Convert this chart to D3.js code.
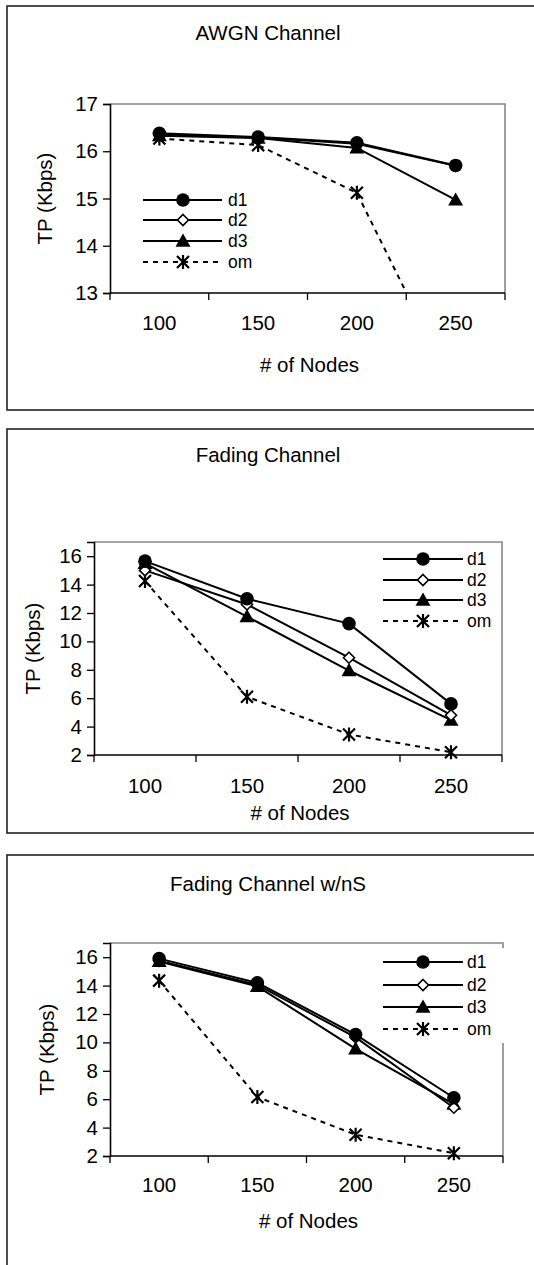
<!DOCTYPE html>
<html><head><meta charset="utf-8">
<script src="https://cdn.jsdelivr.net/npm/d3@7"></script>
<style>
html,body{margin:0;padding:0;background:#fff;}
svg{display:block;}
text{font-family:"Liberation Sans",Arial,sans-serif;fill:#000;}
</style></head>
<body>
<svg id="c" width="534" height="1265"></svg>
<script>
// ---- data ----
const categories = [100, 150, 200, 250];
const seriesNames = ["d1", "d2", "d3", "om"];
const xAxisTitle = "# of Nodes";
const yAxisTitle = "TP (Kbps)";

const awgnTitle = "AWGN Channel";
const awgnD1 = [16.38, 16.30, 16.18, 15.70];
const awgnD2 = [16.36, 16.29, 16.16, 15.69];
const awgnD3 = [16.33, 16.28, 16.07, 14.97];
const awgnOm = [16.27, 16.13, 15.12, 10.9];
const awgnTicks = [13, 14, 15, 16, 17];

const fadingTitle = "Fading Channel";
const fadingD1 = [15.65, 13.0, 11.25, 5.6];
const fadingD2 = [15.0, 12.6, 8.85, 4.8];
const fadingD3 = [15.5, 11.75, 7.95, 4.45];
const fadingOm = [14.25, 6.1, 3.45, 2.2];
const fadingTicks = [2, 4, 6, 8, 10, 12, 14, 16];

const wnsTitle = "Fading Channel w/nS";
const wnsD1 = [15.9, 14.2, 10.55, 6.1];
const wnsD2 = [15.75, 14.05, 10.35, 5.4];
const wnsD3 = [15.7, 13.95, 9.55, 5.65];
const wnsOm = [14.35, 6.15, 3.5, 2.2];
const wnsTicks = [2, 4, 6, 8, 10, 12, 14, 16];

// ---- drawing ----
const svg = d3.select("#c");
const FONT = 20.5;
const LEG_FONT = 17.5;

const panels = [
  { title: awgnTitle, series: [awgnD1, awgnD2, awgnD3, awgnOm], ticks: awgnTicks, domain: [13, 17],
    box: { x: 7, y: 6, b: 410 }, titleY: 33,
    plot: { l: 110, t: 104, r: 505, b: 293 }, xLabY: 323, xTitleY: 365, yTitleX: 45,
    legend: { x0: 143, x1: 222, mx: 183, tx: 228, rows: [200, 220, 241, 262], bg: false } },
  { title: fadingTitle, series: [fadingD1, fadingD2, fadingD3, fadingOm], ticks: fadingTicks, domain: [2, 17],
    box: { x: 7, y: 429, b: 833 }, titleY: 455,
    plot: { l: 94, t: 542, r: 502, b: 755 }, xLabY: 786, xTitleY: 813, yTitleX: 33,
    legend: { x0: 383, x1: 463, mx: 423, tx: 467, rows: [559, 580, 600, 621], bg: false } },
  { title: wnsTitle, series: [wnsD1, wnsD2, wnsD3, wnsOm], ticks: wnsTicks, domain: [2, 17],
    box: { x: 7, y: 855, b: 1300 }, titleY: 884,
    plot: { l: 110, t: 943, r: 503, b: 1156 }, xLabY: 1185, xTitleY: 1221, yTitleX: 47,
    legend: { x0: 383, x1: 463, mx: 423, tx: 467, rows: [962, 985, 1007, 1029], bg: true } }
];

function drawMarker(g, type, x, y) {
  if (type === "d1") {
    g.append("circle").attr("cx", x).attr("cy", y).attr("r", 6.8).attr("fill", "#000");
  } else if (type === "d2") {
    const s = 5.5;
    g.append("path").attr("d", `M${x},${y - s}L${x + s},${y}L${x},${y + s}L${x - s},${y}Z`)
      .attr("fill", "#fff").attr("stroke", "#000").attr("stroke-width", 1.6);
  } else if (type === "d3") {
    const s = 7.5;
    g.append("path").attr("d", `M${x},${y - s}L${x + s},${y + s * 0.75}L${x - s},${y + s * 0.75}Z`)
      .attr("fill", "#000");
  } else {
    const s = 6;
    g.append("path").attr("d", `M${x - s},${y - s}L${x + s},${y + s}M${x - s},${y + s}L${x + s},${y - s}M${x},${y - s - 1}L${x},${y + s + 1}`)
      .attr("stroke", "#000").attr("stroke-width", 2.2).attr("fill", "none");
  }
}

panels.forEach((p, pi) => {
  const g = svg.append("g");
  g.append("rect").attr("x", p.box.x).attr("y", p.box.y)
    .attr("width", 560).attr("height", p.box.b - p.box.y)
    .attr("fill", "#fff").attr("stroke", "#222").attr("stroke-width", 1.6);
  g.append("text").attr("x", 268).attr("y", p.titleY).attr("dy", "0.35em")
    .attr("text-anchor", "middle").attr("font-size", FONT).text(p.title);

  const x = d3.scaleBand().domain(categories).range([p.plot.l, p.plot.r]);
  const y = d3.scaleLinear().domain(p.domain).range([p.plot.b, p.plot.t]);

  g.append("path").attr("d", `M${p.plot.l},${p.plot.t}H${p.plot.r}V${p.plot.b}`)
    .attr("fill", "none").attr("stroke", "#888").attr("stroke-width", 1.6);

  const cid = "clip" + pi;
  svg.append("clipPath").attr("id", cid).append("rect")
    .attr("x", p.plot.l).attr("y", p.plot.t).attr("width", p.plot.r - p.plot.l).attr("height", p.plot.b - p.plot.t);

  const yAx = g.append("g").attr("transform", `translate(${p.plot.l},0)`)
    .call(d3.axisLeft(y).tickValues(p.ticks).tickSize(7).tickPadding(5).tickFormat(d3.format("d")));
  yAx.select(".domain").attr("stroke", "#000").attr("stroke-width", 1.6);
  yAx.selectAll(".tick line").attr("stroke", "#000").attr("stroke-width", 1.3);
  yAx.selectAll(".tick text").attr("font-size", FONT).attr("font-family", "Liberation Sans, Arial, sans-serif");

  const xAx = g.append("g").attr("transform", `translate(0,${p.plot.b})`);
  xAx.append("line").attr("x1", p.plot.l).attr("x2", p.plot.r).attr("stroke", "#000").attr("stroke-width", 1.6);
  const bounds = categories.map(c => x(c)).concat([x(categories[categories.length - 1]) + x.bandwidth()]);
  xAx.selectAll("line.tk").data(bounds).join("line").attr("class", "tk")
    .attr("x1", d => d).attr("x2", d => d).attr("y1", 0).attr("y2", 7)
    .attr("stroke", "#000").attr("stroke-width", 1.3);
  g.selectAll("text.xl").data(categories).join("text").attr("class", "xl")
    .attr("x", d => x(d) + x.bandwidth() / 2).attr("y", p.xLabY).attr("dy", "0.35em")
    .attr("text-anchor", "middle").attr("font-size", FONT).text(d => d);

  g.append("text").attr("x", (p.plot.l + p.plot.r) / 2 + 2).attr("y", p.xTitleY).attr("dy", "0.35em")
    .attr("text-anchor", "middle").attr("font-size", FONT).text(xAxisTitle);
  g.append("text").attr("transform", `translate(${p.yTitleX},${(p.plot.t + p.plot.b) / 2}) rotate(-90)`)
    .attr("dy", "0.35em").attr("text-anchor", "middle").attr("font-size", FONT).text(yAxisTitle);

  const line = d3.line().x((d, i) => x(categories[i]) + x.bandwidth() / 2).y(d => y(d));
  const dataG = g.append("g").attr("clip-path", `url(#${cid})`);
  const markG = g.append("g");
  [3, 2, 1, 0].forEach(si => {
    dataG.append("path").attr("d", line(p.series[si])).attr("fill", "none").attr("stroke", "#000")
      .attr("stroke-width", 2)
      .attr("stroke-dasharray", si === 3 ? "5,5" : null);
  });
  [3, 2, 1, 0].forEach(si => {
    p.series[si].forEach((v, i) => {
      if (v >= p.domain[0]) drawMarker(markG, seriesNames[si], x(categories[i]) + x.bandwidth() / 2, y(v));
    });
  });

  const L = p.legend;
  const lg = g.append("g");
  if (L.bg) {
    lg.append("rect").attr("x", L.x0 - 3).attr("y", L.rows[0] - 14).attr("width", 140)
      .attr("height", L.rows[3] - L.rows[0] + 28).attr("fill", "#fff");
  }
  seriesNames.forEach((n, i) => {
    const yy = L.rows[i];
    lg.append("line").attr("x1", L.x0).attr("x2", L.x1).attr("y1", yy).attr("y2", yy)
      .attr("stroke", "#000").attr("stroke-width", 2)
      .attr("stroke-dasharray", n === "om" ? "5,5" : null);
    drawMarker(lg, n, L.mx, yy);
    lg.append("text").attr("x", L.tx).attr("y", yy).attr("dy", "0.35em")
      .attr("font-size", LEG_FONT).text(n);
  });
});
</script>
</body></html>
